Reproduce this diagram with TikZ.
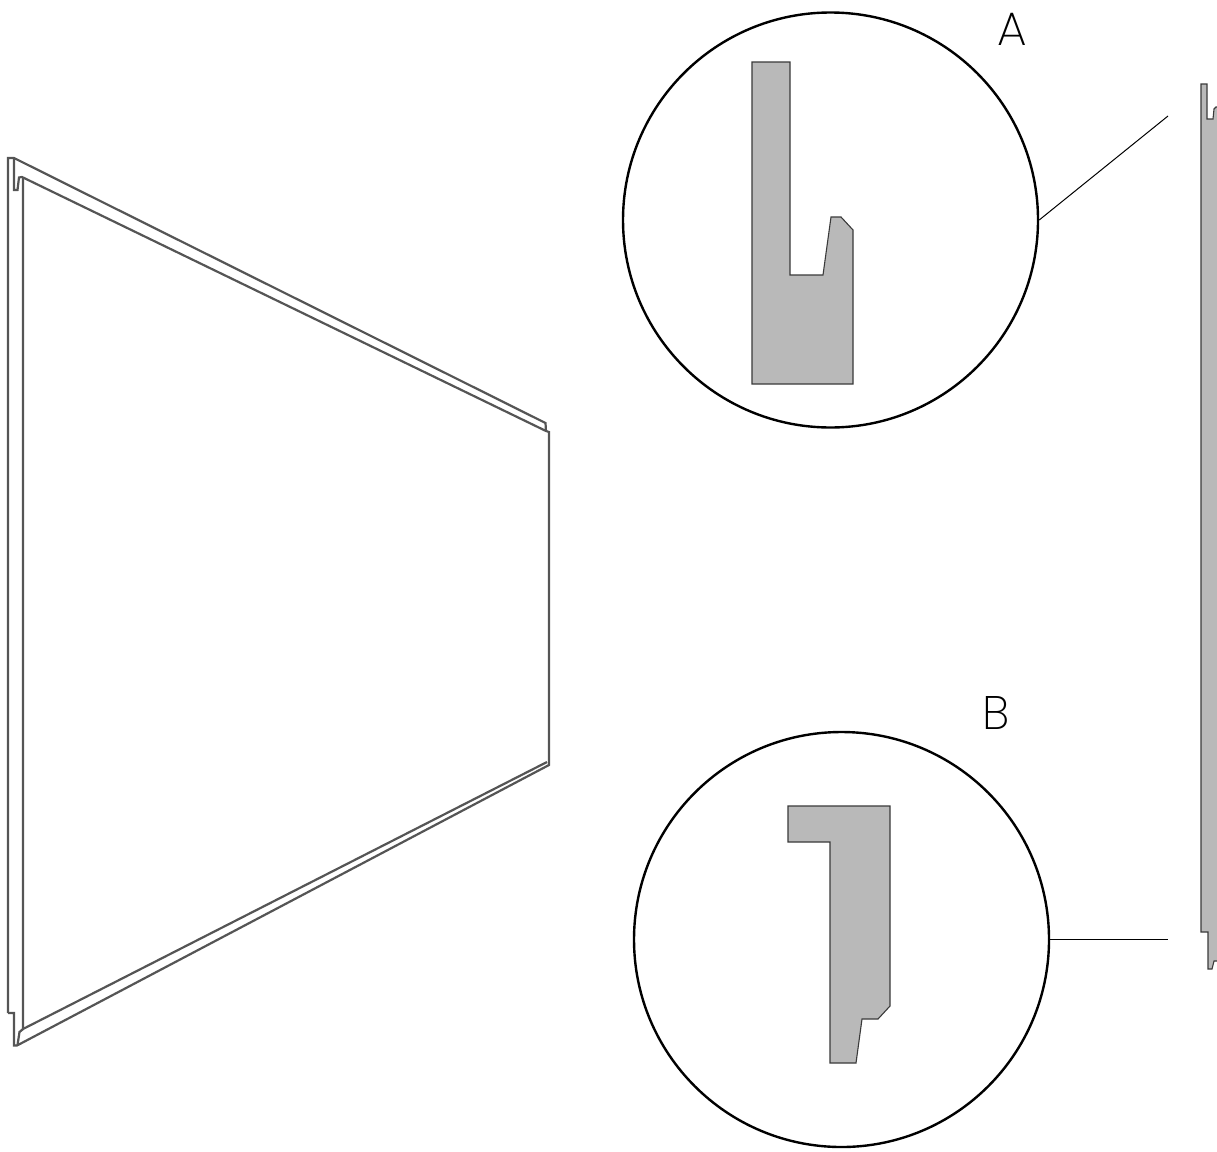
\documentclass[tikz,border=0pt]{standalone}
\usepackage{fontspec}
\setmainfont{Poppins}[UprightFont=* ExtraLight]
\definecolor{prof}{HTML}{B9B9B9}
\definecolor{edge}{HTML}{3A3A3A}
\definecolor{pedge}{HTML}{555555}
\tikzset{
 lens/.style={draw=black,line width=2.4pt,circle,minimum size=415pt,inner sep=0pt,fill=white},
 section/.style={fill=prof,draw=edge,line width=1.1pt,line join=miter},
 panel/.style={draw=pedge,line width=2.2pt,line join=miter,fill=none},
 leader/.style={draw=black,line width=1pt},
 callout/.style={font=\fontsize{47pt}{47pt}\selectfont,text=black,inner sep=0pt}
}
\begin{document}
\begin{tikzpicture}[x=1pt,y=-1pt]
\useasboundingbox (0,0) rectangle (1217,1151);
\clip (0,0) rectangle (1217,1151);
% left panel
\draw[panel] (8,1013) -- (8,158) -- (14,158) -- (545.5,423) -- (546,431.5);
\draw[panel] (14,158) -- (14,190) -- (17.5,190) -- (19,177.5) -- (22,177) -- (546,431) -- (549,432) -- (549,765) -- (17,1045.5) -- (14,1045.5) -- (14,1013) -- (8,1013);
\draw[panel] (23,177) -- (23,1029) -- (547,762);
\draw[panel] (23,1029) -- (19.5,1032) -- (17.5,1045);
% right profile
\draw[section] (1230,107) -- (1216,107) -- (1214,109) -- (1213,119) -- (1207,119) -- (1207,84) -- (1201,84) -- (1201,932) -- (1208,932) -- (1208,969) -- (1212,969) -- (1214,961) -- (1230,961) -- cycle;
% lenses
\node[lens] (lensA) at (830.5,220) {};
\node[lens] (lensB) at (841.5,939.5) {};
\draw[section] (752,62) -- (790,62) -- (790,275) -- (823,275) -- (831,217) -- (841,217) -- (853,230) -- (853,384) -- (752,384) -- cycle;
\draw[section] (788,806) -- (890,806) -- (890,1006) -- (878,1019) -- (862,1019) -- (856,1063) -- (830,1063) -- (830,842) -- (788,842) -- cycle;
% leaders
\coordinate (endA) at (1168,116);
\coordinate (endB) at (1168,939.5);
\draw[leader] (lensA.east) -- (endA);
\draw[leader] (lensB.east) -- (endB);
\node[callout] (labelA) at (1012,29) {A};
\node[callout] (labelB) at (996.5,713) {B};
\end{tikzpicture}
\end{document}
